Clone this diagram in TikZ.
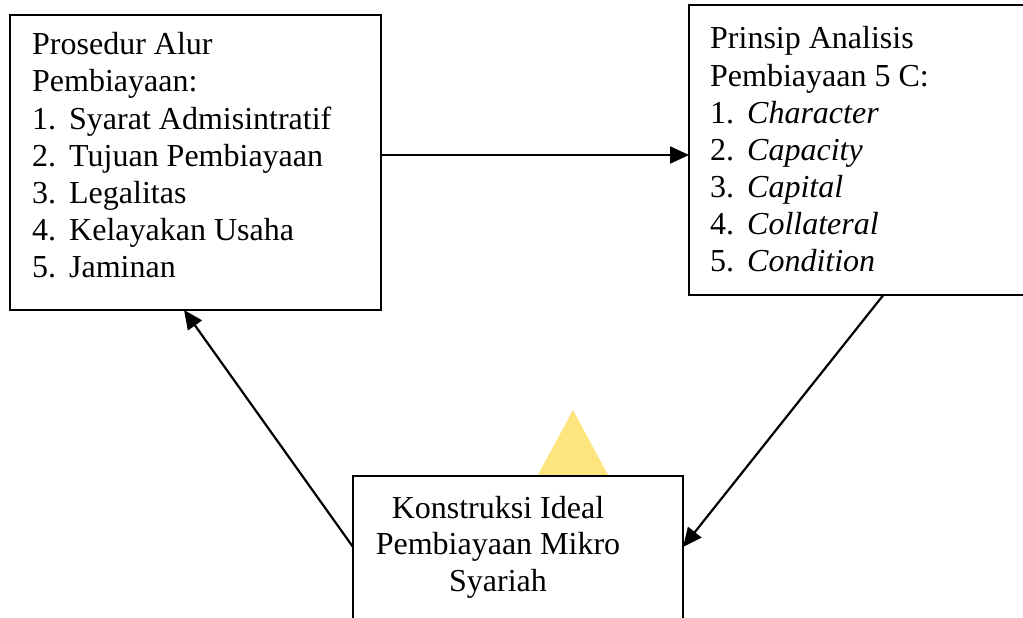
\documentclass[tikz,border=0pt]{standalone}
\usepackage{fontspec}
\setmainfont{Liberation Serif}
\usetikzlibrary{arrows.meta,calc}
\definecolor{wm}{RGB}{253,228,125}
\newcommand{\itm}[1]{\makebox[37pt][l]{#1}}
\begin{document}
\begin{tikzpicture}[x=1pt,y=-1pt,
  box/.style={draw,line width=1.8pt,fill=white,inner sep=0pt,outer sep=0pt,anchor=north west},
  txt/.style={anchor=base west,inner sep=0pt,font=\fontsize{32pt}{37pt}\selectfont},
  ctxt/.style={anchor=base,inner sep=0pt,font=\fontsize{32pt}{37pt}\selectfont},
  link/.style={line width=2.2pt,-{Triangle[length=19pt,width=17pt]}}]
\clip (0,0) rectangle (1023,618);
\useasboundingbox (0,0) rectangle (1023,618);
% watermark
\fill[wm] (573,410) -- (740,720) -- (406,720) -- cycle;
% boxes
\node[box,minimum width=371pt,minimum height=295pt] (L) at (10,15) {};
\node[box,minimum width=341pt,minimum height=290pt] (R) at (689,5) {};
\node[box,minimum width=330pt,minimum height=240pt] (B) at (353,476) {};
% left texts
\node[txt] (L1) at (32,55) {Prosedur Alur};
\node[txt] (L2) at (32,92) {Pembiayaan:};
\node[txt] (L3) at (32,129) {\itm{1.}Syarat Admisintratif};
\node[txt] (L4) at (32,166) {\itm{2.}Tujuan Pembiayaan};
\node[txt] (L5) at (32,203) {\itm{3.}Legalitas};
\node[txt] (L6) at (32,240) {\itm{4.}Kelayakan Usaha};
\node[txt] (L7) at (32,277) {\itm{5.}Jaminan};
% right texts
\node[txt] (R1) at (710,49) {Prinsip Analisis};
\node[txt] (R2) at (710,86) {Pembiayaan 5 C:};
\node[txt] (R3) at (710,123) {\itm{1.}\textit{Character}};
\node[txt] (R4) at (710,160) {\itm{2.}\textit{Capacity}};
\node[txt] (R5) at (710,197) {\itm{3.}\textit{Capital}};
\node[txt] (R6) at (710,234) {\itm{4.}\textit{Collateral}};
\node[txt] (R7) at (710,271) {\itm{5.}\textit{Condition}};
% bottom texts
\node[ctxt] (B1) at (498,518) {Konstruksi Ideal};
\node[ctxt] (B2) at (498,554) {Pembiayaan Mikro};
\node[ctxt] (B3) at (498,591) {Syariah};
% connectors
\draw[link] ([yshift=-140pt]L.north east) -- ([yshift=-150pt]R.north west);
\draw[link] ($(R.south west)!0.57!(R.south east)$) -- ([yshift=-71pt]B.north east);
\draw[link] ([yshift=-71pt]B.north west) -- ($(L.south west)!0.469!(L.south east)$);
\end{tikzpicture}
\end{document}
